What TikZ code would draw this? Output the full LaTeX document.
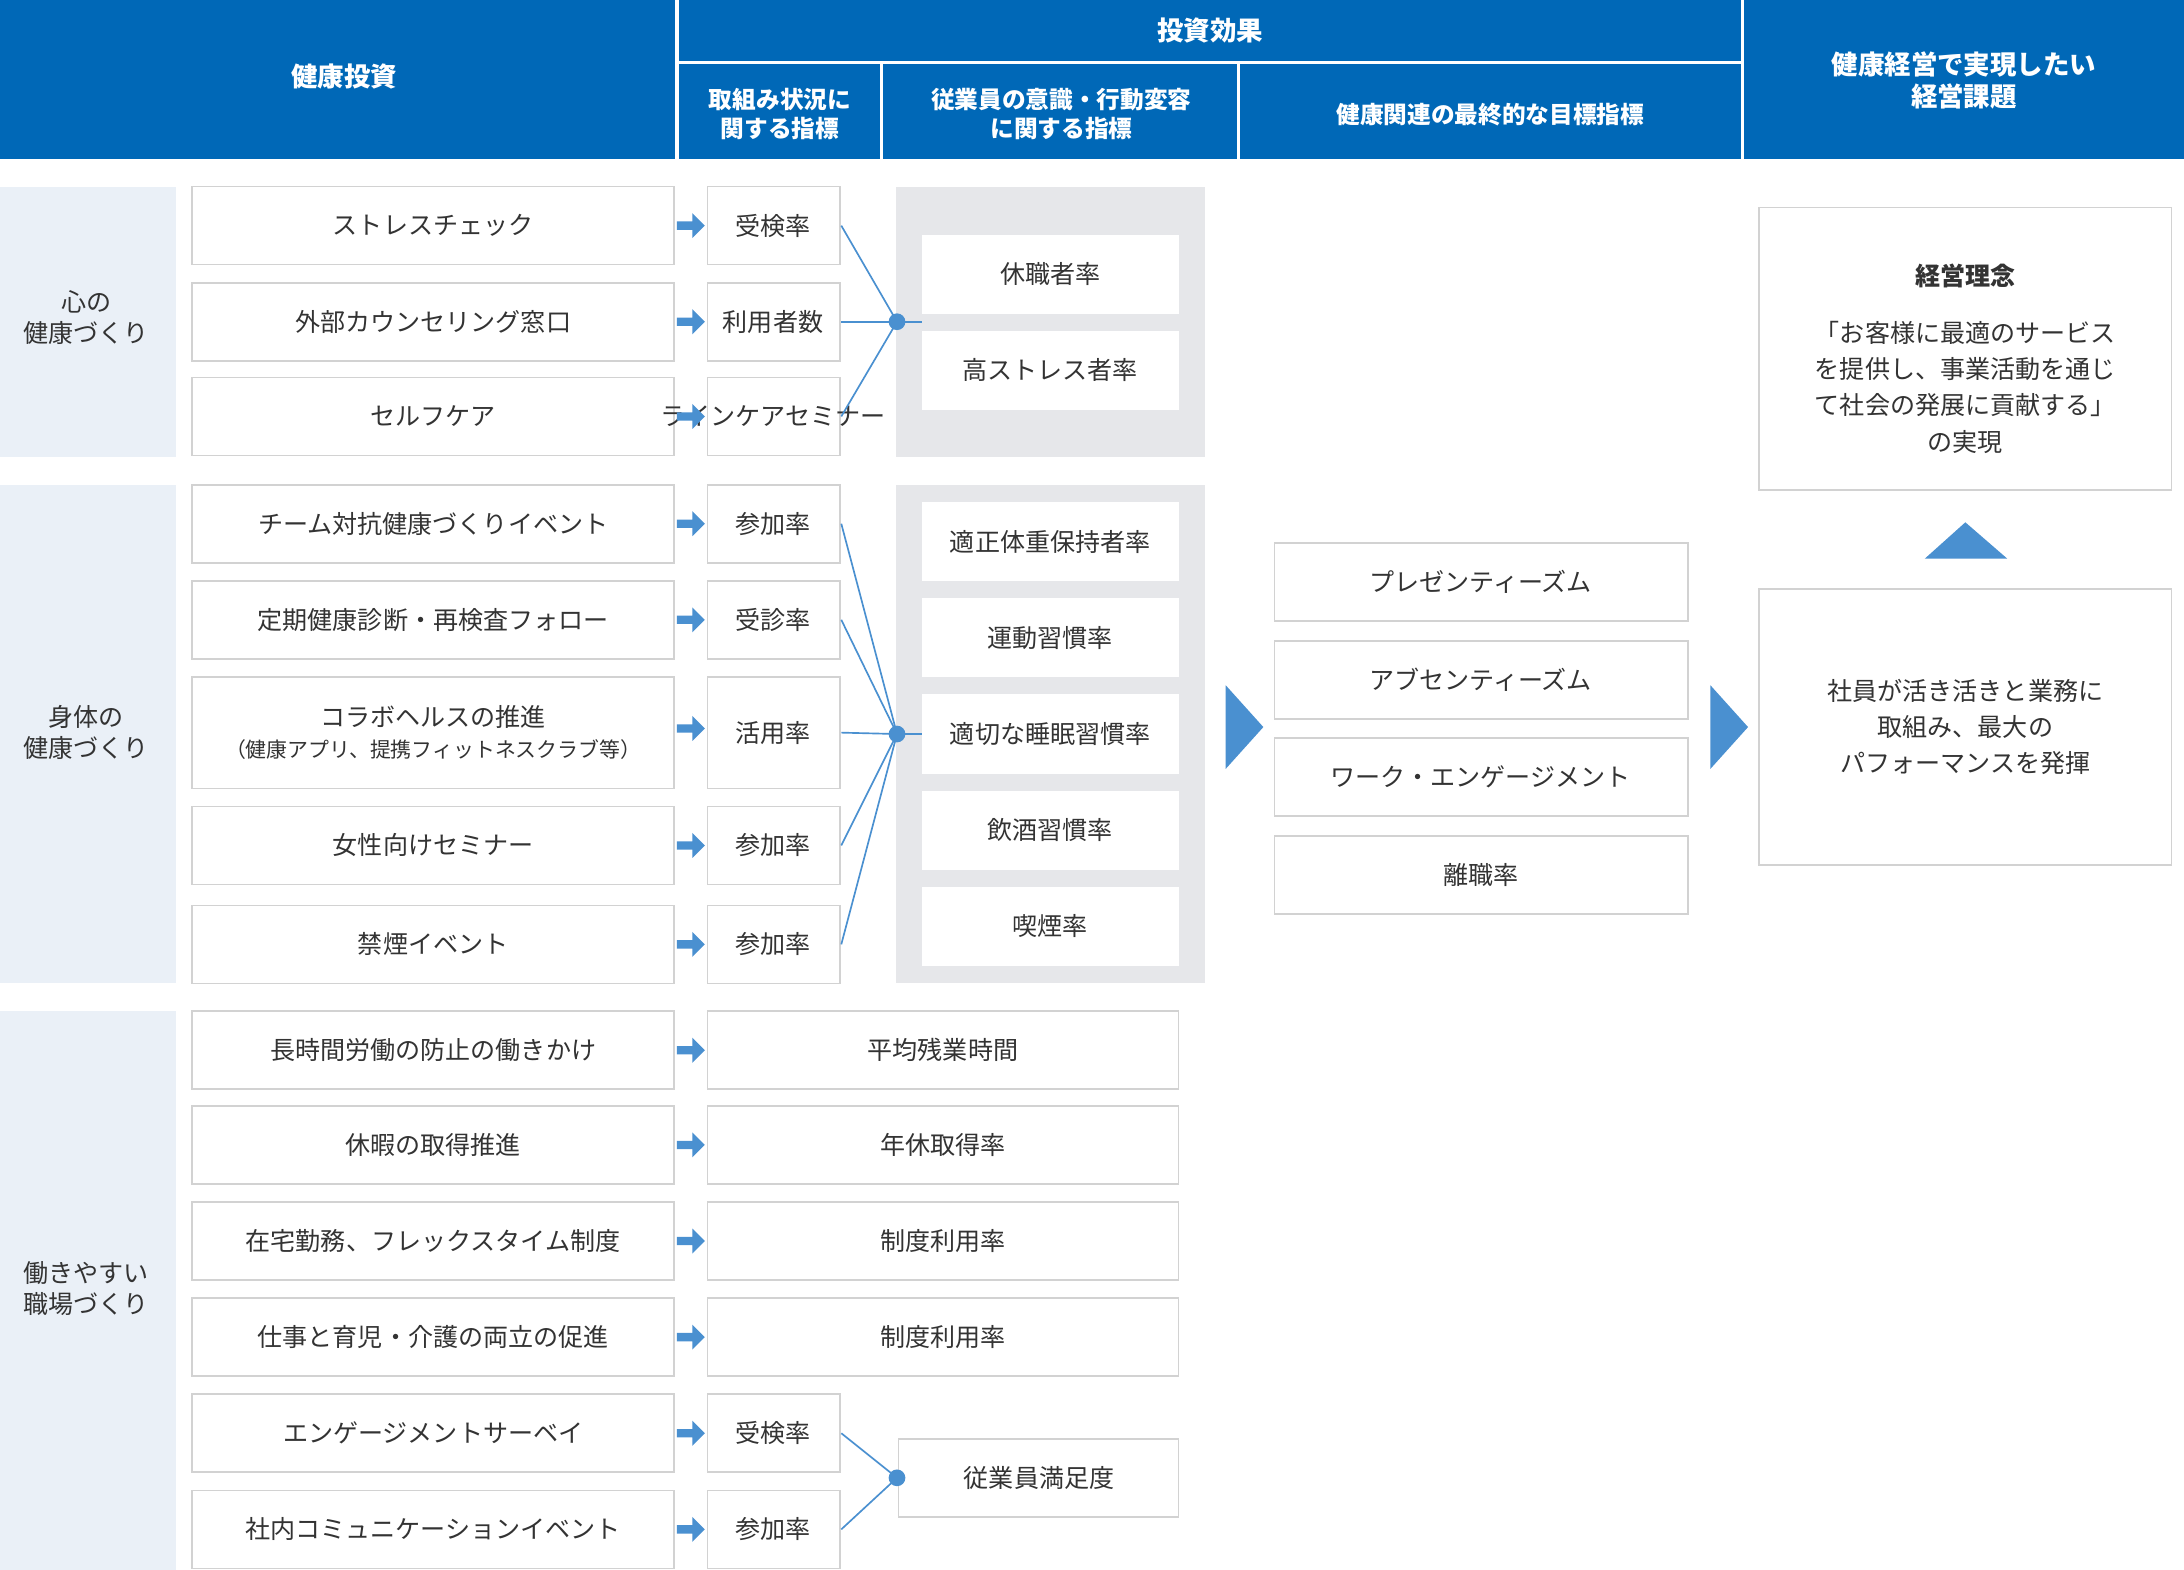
\documentclass[tikz,border=0pt]{standalone}
\usepackage{fontspec}
\setmainfont{Noto Sans CJK JP}
\definecolor{hdr}{HTML}{0068B7}
\definecolor{arr}{HTML}{4A90D0}
\definecolor{gry}{HTML}{E6E7EA}
\definecolor{band}{HTML}{EAF0F7}
\definecolor{bdr}{HTML}{D2D2D2}
\definecolor{txt}{HTML}{333333}
\begin{document}
\begin{tikzpicture}[x=0.5pt,y=-0.5pt,
 bx/.style={draw=bdr,fill=white,line width=0.6pt},
 tx/.style={font=\fontsize{9}{11}\selectfont,text=txt,align=center},
 hx/.style={font=\bfseries\fontsize{9.5}{11.5}\selectfont,text=white,align=center},
 sarr/.style={fill=arr,draw=none}]
\useasboundingbox (0,0) rectangle (1568,1127);
\fill[white] (0,0) rectangle (1568,1127);
% header
\fill[hdr] (0,0) rectangle (1568,114);
\draw[white,line width=1.2pt] (486,0)--(486,114) (1251,0)--(1251,114) (486,45)--(1251,45) (633,45)--(633,114) (889,45)--(889,114);
\node[hx] (h1) at (247,55) {健康投資};
\node[hx] (h2) at (869,22) {投資効果};
\node[hx,font=\bfseries\fontsize{8.5}{10.5}\selectfont] (h3) at (560,82) {取組み状況に\\関する指標};
\node[hx,font=\bfseries\fontsize{8.5}{10.5}\selectfont] (h4) at (762,82) {従業員の意識・行動変容\\に関する指標};
\node[hx,font=\bfseries\fontsize{8.5}{10.5}\selectfont] (h5) at (1070,82) {健康関連の最終的な目標指標};
\node[hx] (h6) at (1410,58) {健康経営で実現したい\\経営課題};
% bands
\fill[band] (0,134) rectangle (126,328);
\fill[band] (0,348) rectangle (126,706);
\fill[band] (0,726) rectangle (126,1127);
\node[tx] (c1) at (62,228) {心の\\健康づくり};
\node[tx] (c2) at (62,526) {身体の\\健康づくり};
\node[tx] (c3) at (62,925) {働きやすい\\職場づくり};
% gray panels
\fill[gry] (643,134) rectangle (865,328);
\fill[gry] (643,348) rectangle (865,706);
% investment rows
\foreach \y/\t/\m [count=\i] in {162/ストレスチェック/受検率,231/外部カウンセリング窓口/利用者数,299/セルフケア/ラインケアセミナー/受講率,376/チーム対抗健康づくりイベント/参加率,445/定期健康診断・再検査フォロー/受診率,607/女性向けセミナー/参加率,678/禁煙イベント/参加率,1029/エンゲージメントサーベイ/受検率,1098/社内コミュニケーションイベント/参加率}{
 \draw[bx] (138,\y-28) rectangle (484,\y+28);
 \node[tx] (inv\i) at (311,\y) {\t};
 \draw[bx] (508,\y-28) rectangle (603,\y+28);
 \node[tx] (met\i) at (555,\y) {\m};
 \coordinate (me\i) at (604,\y);
 \fill[sarr] (486,\y-3) -- (497,\y-3) -- (497,\y-9) -- (506,\y) -- (497,\y+9) -- (497,\y+3) -- (486,\y+3) -- cycle;
}
% collab row
\draw[bx] (138,486) rectangle (484,566);
\node[tx] (invc) at (311,526) {コラボヘルスの推進\\{\fontsize{7.5}{10}\selectfont（健康アプリ、提携フィットネスクラブ等）}};
\draw[bx] (508,486) rectangle (603,566);
\node[tx] (metc) at (555,526) {活用率};
\coordinate (mec) at (604,526);
\fill[sarr] (486,520) -- (497,520) -- (497,514) -- (506,523) -- (497,532) -- (497,526) -- (486,526) -- cycle;
% wide rows
\foreach \y/\t/\m [count=\i] in {754/長時間労働の防止の働きかけ/平均残業時間,822/休暇の取得推進/年休取得率,891/在宅勤務、フレックスタイム制度/制度利用率,960/仕事と育児・介護の両立の促進/制度利用率}{
 \draw[bx] (138,\y-28) rectangle (484,\y+28);
 \node[tx] (winv\i) at (311,\y) {\t};
 \draw[bx] (508,\y-28) rectangle (846,\y+28);
 \node[tx] (wmet\i) at (677,\y) {\m};
 \fill[sarr] (486,\y-3) -- (497,\y-3) -- (497,\y-9) -- (506,\y) -- (497,\y+9) -- (497,\y+3) -- (486,\y+3) -- cycle;
}
% behavior boxes
\foreach \y/\t [count=\i] in {197/休職者率,266/高ストレス者率,389/適正体重保持者率,458/運動習慣率,527/適切な睡眠習慣率,596/飲酒習慣率,665/喫煙率}{
 \draw[white,fill=white] (662,\y-28) rectangle (846,\y+28);
 \node[tx] (beh\i) at (754,\y) {\t};
}
\draw[bx] (645,1033) rectangle (846,1089);
\node[tx] (sat) at (746,1061) {従業員満足度};
% dots and lines
\coordinate (d1) at (644,231);
\coordinate (d2) at (644,527);
\coordinate (d3) at (644,1061);
\foreach \a in {me1,me2,me3} \draw[arr,line width=0.6pt] (\a)--(d1);
\draw[arr,line width=0.6pt] (d1)--(662,231);
\foreach \a in {me4,me5,mec,me6,me7} \draw[arr,line width=0.6pt] (\a)--(d2);
\draw[arr,line width=0.6pt] (d2)--(662,527);
\foreach \a in {me8,me9} \draw[arr,line width=0.6pt] (\a)--(d3);
\foreach \d in {d1,d2,d3} \fill[arr] (\d) circle (6);
% chevrons
\fill[arr] (880,492) -- (907,522) -- (880,552) -- cycle;
\fill[arr] (1228,492) -- (1255,522) -- (1228,552) -- cycle;
% final indicators
\foreach \y/\t [count=\i] in {418/プレゼンティーズム,488/アブセンティーズム,558/ワーク・エンゲージメント,628/離職率}{
 \draw[bx] (915,\y-28) rectangle (1212,\y+28);
 \node[tx] (fin\i) at (1063,\y) {\t};
}
% right column
\draw[bx] (1263,149) rectangle (1559,352);
\node[tx,font=\bfseries\fontsize{9}{11}\selectfont] (r1t) at (1411,198) {経営理念};
\node[tx,font=\fontsize{9}{13}\selectfont] (r1) at (1411,278) {「お客様に最適のサービス\\を提供し、事業活動を通じ\\て社会の発展に貢献する」\\の実現};
\fill[arr] (1382,401) -- (1411,375) -- (1441,401) -- cycle;
\draw[bx] (1263,423) rectangle (1559,621);
\node[tx,font=\fontsize{9}{13}\selectfont] (r2) at (1411,522) {社員が活き活きと業務に\\取組み、最大の\\パフォーマンスを発揮};
\end{tikzpicture}
\end{document}
